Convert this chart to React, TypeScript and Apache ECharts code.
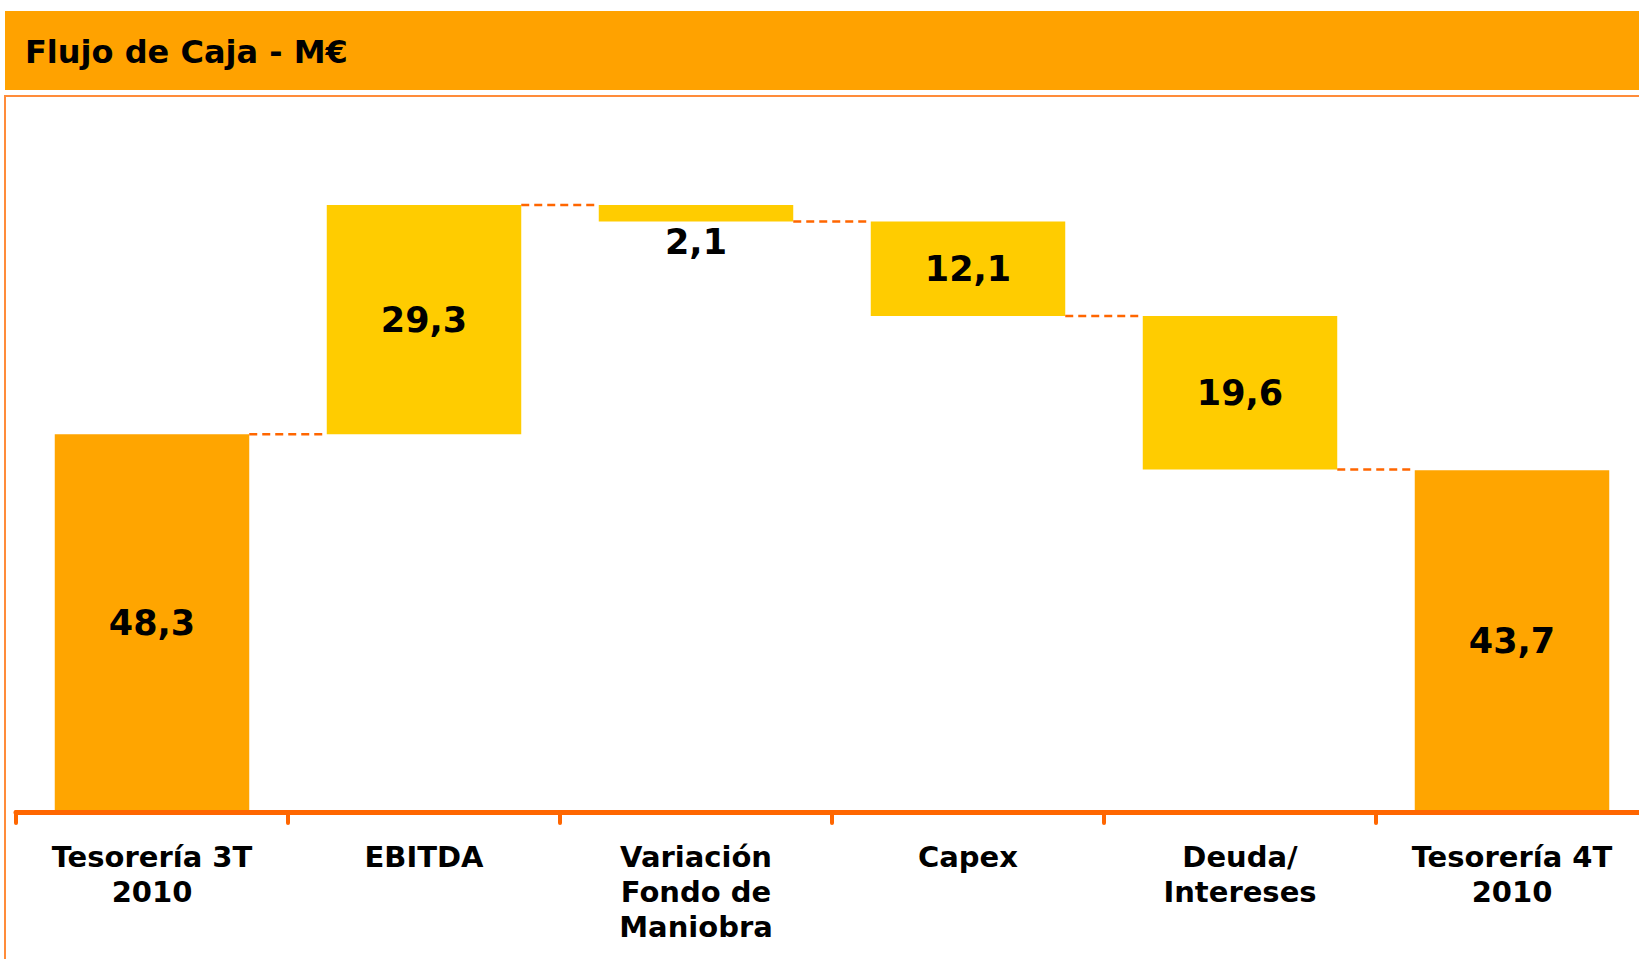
import React, { useEffect, useRef } from "react";
import * as echarts from "echarts";

const categories = [
  "Tesorería 3T\n2010",
  "EBITDA",
  "Variación\nFondo de\nManiobra",
  "Capex",
  "Deuda/\nIntereses",
  "Tesorería 4T\n2010",
];
const values = [48.3, 29.3, -2.1, -12.1, -19.6, 43.7];
const isTotal = [true, false, false, false, false, true];
const labelInside = [true, true, false, true, true, true];
const titleText = "Flujo de Caja - M€";

const TOTAL_COLOR = "#FFA500";
const DELTA_COLOR = "#FFCC00";
const LINE_COLOR = "#FF6600";
const BAR_FRAC = 0.715;

function buildWaterfall() {
  const bases: number[] = [];
  const heights: number[] = [];
  const levels: number[] = [];
  let running = 0;
  values.forEach((v, i) => {
    if (isTotal[i]) {
      bases.push(0);
      heights.push(v);
      running = v;
    } else if (v >= 0) {
      bases.push(running);
      heights.push(v);
      running += v;
    } else {
      running += v;
      bases.push(running);
      heights.push(-v);
    }
    levels.push(Math.round(running * 10) / 10);
  });
  return { bases, heights, levels };
}

const fmt = (v: number) => Math.abs(v).toFixed(1).replace(".", ",");

export default function App() {
  const ref = useRef<HTMLDivElement>(null);
  useEffect(() => {
    if (!ref.current) return;
    const chart = echarts.init(ref.current, null, { renderer: "svg" });
    const { bases, heights, levels } = buildWaterfall();
    const connectorData = levels.slice(0, levels.length - 1).map((l, i) => [i, l]);
    const font = "'DejaVu Sans', Verdana, sans-serif";

    chart.setOption({
      animation: false,
      backgroundColor: "#ffffff",
      graphic: [
        {
          type: "rect",
          shape: { x: 5, y: 11, width: 1640, height: 79 },
          style: { fill: "#FFA200" },
          z: 0,
        },
        {
          type: "text",
          x: 25,
          y: 52,
          style: {
            text: titleText,
            fill: "#000",
            font: `bold 32px ${font}`,
            verticalAlign: "middle",
            align: "left",
          },
          z: 1,
        },
        {
          type: "rect",
          shape: { x: 5, y: 96, width: 1700, height: 1000 },
          style: { fill: "none", stroke: "#FF8C3A", lineWidth: 2 },
          z: 0,
        },
      ],
      grid: {
        left: 16,
        width: 1632,
        top: 108,
        height: 704,
        containLabel: false,
        outerBoundsMode: "none",
      },
      xAxis: {
        type: "category",
        data: categories,
        axisLine: { show: true, lineStyle: { color: LINE_COLOR, width: 5, cap: "round" } },
        axisTick: {
          show: true,
          interval: 0,
          length: 11,
          lineStyle: { color: LINE_COLOR, width: 4, cap: "round" },
        },
        axisLabel: {
          interval: 0,
          margin: 27,
          color: "#000",
          fontFamily: font,
          fontWeight: "bold",
          fontSize: 29,
          lineHeight: 35,
          align: "center",
          hideOverlap: false,
        },
        splitLine: { show: false },
        z: 5,
      },
      yAxis: {
        type: "value",
        min: 0,
        max: 90,
        show: false,
        splitLine: { show: false },
      },
      series: [
        {
          type: "bar",
          stack: "wf",
          barWidth: `${BAR_FRAC * 100}%`,
          data: bases,
          itemStyle: { color: "transparent" },
          silent: true,
        },
        {
          type: "bar",
          stack: "wf",
          barWidth: `${BAR_FRAC * 100}%`,
          data: heights.map((h, i) => ({
            value: h,
            itemStyle: { color: isTotal[i] ? TOTAL_COLOR : DELTA_COLOR },
            label: {
              show: true,
              position: labelInside[i] ? "inside" : "bottom",
              distance: 3,
            },
          })),
          label: {
            show: true,
            color: "#000",
            fontFamily: font,
            fontWeight: "bold",
            fontSize: 35,
            formatter: (p: any) => fmt(values[p.dataIndex]),
          },
        },
        {
          type: "custom",
          data: connectorData,
          encode: { x: 0, y: 1 },
          z: 3,
          renderItem: (params: any, api: any) => {
            const p = api.coord([api.value(0), api.value(1)]);
            const band = api.size([1, 0])[0];
            const half = (band * BAR_FRAC) / 2;
            return {
              type: "line",
              shape: { x1: p[0] + half, y1: p[1], x2: p[0] + band - half, y2: p[1] },
              style: { stroke: LINE_COLOR, lineWidth: 2.5, lineDash: [8, 5] },
            };
          },
        },
      ],
    });
    return () => chart.dispose();
  }, []);
  return (
    <div
      ref={ref}
      style={{ position: "fixed", left: 0, top: 0, width: 1639, height: 959 }}
    />
  );
}
